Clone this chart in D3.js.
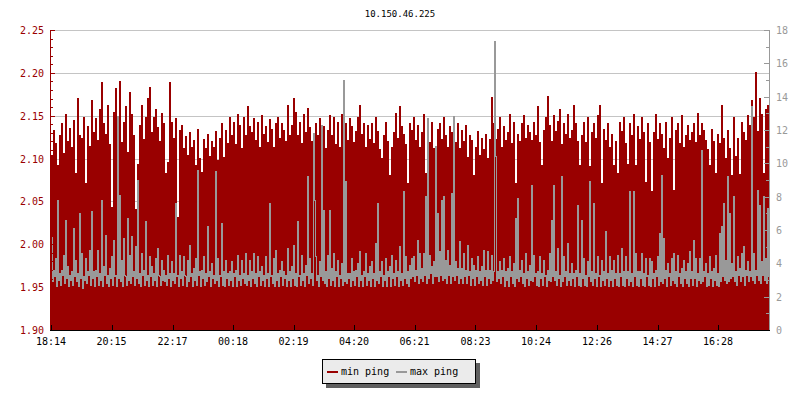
<!DOCTYPE html>
<html><head><meta charset="utf-8">
<script src="https://cdn.jsdelivr.net/npm/d3@7"></script>
<style>
body{margin:0;background:#fff}
text{font-family:"DejaVu Sans Mono",monospace;font-size:10px}
</style>
</head><body>
<svg id="chart" width="800" height="400"></svg>
<script>
const chartTitle = "10.150.46.225";
const seriesNames = ["min ping", "max ping"];
const timeLabels = ["18:14","20:15","22:17","00:18","02:19","04:20","06:21","08:23","10:24","12:26","14:27","16:28"];
const minStepMinutes = 4;
const maxStepMinutes = 2;
const leftTicks = [1.90, 1.95, 2.00, 2.05, 2.10, 2.15, 2.20, 2.25];
const rightTicks = [0, 2, 4, 6, 8, 10, 12, 14, 16, 18];

const minPing = [
2.104,2.133,2.118,2.092,2.127,2.141,2.106,2.152,2.121,2.136,2.113,2.145,2.083,2.171,2.128,2.124,2.149,2.072,2.138,2.115,
2.168,2.131,2.147,2.122,2.158,2.189,2.142,2.129,2.163,2.117,2.043,2.154,2.182,2.134,2.191,2.119,2.143,2.161,2.108,2.178,
2.152,2.127,2.041,2.094,2.139,2.162,2.123,2.148,2.171,2.184,2.131,2.149,2.158,2.137,2.121,2.153,2.142,2.083,2.096,2.189,
2.143,2.124,2.147,2.032,2.133,2.139,2.112,2.126,2.104,2.131,2.114,2.122,2.093,2.134,2.101,2.084,2.123,2.112,2.129,2.103,
2.121,2.113,2.132,2.098,2.124,2.141,2.102,2.133,2.118,2.149,2.128,2.143,2.117,2.152,2.139,2.112,2.148,2.127,2.161,2.138,
2.131,2.147,2.122,2.143,2.114,2.151,2.129,2.138,2.119,2.146,2.134,2.113,2.142,2.149,2.124,2.141,2.133,2.121,2.162,2.128,
2.139,2.171,2.154,2.127,2.143,2.118,2.152,2.131,2.159,2.137,2.121,2.102,2.141,2.128,2.147,2.119,2.138,2.112,2.133,2.151,
2.128,2.149,2.117,2.143,2.113,2.152,2.134,2.141,2.122,2.147,2.138,2.119,2.132,2.148,2.163,2.129,2.142,2.114,2.139,2.123,
2.141,2.118,2.149,2.132,2.111,2.101,2.128,2.143,2.121,2.081,2.114,2.131,2.153,2.124,2.161,2.138,2.129,2.117,2.072,2.142,
2.133,2.148,2.122,2.139,2.113,2.131,2.152,2.083,2.127,2.119,2.143,2.112,2.091,2.134,2.141,2.123,2.149,2.128,2.114,2.138,
2.131,2.146,2.119,2.142,2.112,2.133,2.121,2.139,2.102,2.128,2.122,2.081,2.113,2.132,2.104,2.124,2.111,2.129,2.101,2.123,
2.172,2.141,2.123,2.134,2.149,2.114,2.138,2.122,2.131,2.152,2.118,2.143,2.071,2.129,2.121,2.142,2.151,2.124,2.139,2.131,
2.122,2.143,2.128,2.161,2.119,2.092,2.133,2.148,2.173,2.139,2.121,2.151,2.132,2.144,2.158,2.117,2.141,2.129,2.152,2.124,
2.133,2.162,2.141,2.121,2.093,2.128,2.143,2.119,2.149,2.091,2.131,2.142,2.124,2.151,2.163,2.071,2.134,2.122,2.141,2.113,
2.129,2.092,2.121,2.083,2.143,2.132,2.149,2.118,2.094,2.141,2.127,2.152,2.092,2.138,2.123,2.149,2.131,2.073,2.142,2.119,
2.062,2.131,2.152,2.123,2.141,2.129,2.112,2.143,2.101,2.124,2.149,2.063,2.133,2.142,2.118,2.151,2.113,2.128,2.139,2.122,
2.131,2.142,2.119,2.153,2.128,2.141,2.133,2.122,2.111,2.092,2.134,2.121,2.083,2.129,2.118,2.162,2.124,2.101,2.133,2.112,
2.081,2.148,2.103,2.124,2.082,2.143,2.131,2.122,2.151,2.139,2.168,2.149,2.201,2.132,2.171,2.152,2.083,2.158,2.163
];

const maxPing = [
5.6,2.9,3.6,3.2,4.3,2.6,7.8,3.0,3.4,2.7,3.6,3.3,4.5,2.8,6.6,3.1,3.8,2.6,3.3,3.0,3.5,2.7,6.1,3.2,4.2,2.9,3.4,2.6,7.0,3.1,4.6,2.5,3.2,3.0,4.3,2.8,3.5,3.3,4.8,2.7,
7.1,3.1,3.5,2.6,3.6,3.2,4.8,2.7,3.4,3.0,7.8,2.6,3.8,3.3,5.7,2.8,3.3,2.6,3.7,3.1,4.4,2.7,5.4,3.2,3.3,2.6,12.8,3.1,8.1,2.9,4.2,2.6,5.5,3.3,3.2,2.7,6.7,3.0,4.5,2.8,
5.6,3.2,3.5,2.7,5.0,3.1,9.0,2.8,3.4,2.6,4.6,3.3,3.6,2.7,6.5,3.0,3.3,2.6,4.4,3.2,3.8,2.7,3.4,3.0,4.3,2.6,4.9,3.3,3.2,2.7,4.2,3.0,3.6,2.9,3.3,2.7,4.5,3.1,3.4,2.6,
4.1,3.0,3.4,2.8,7.6,3.2,3.3,2.6,4.5,3.1,3.5,2.7,4.4,3.3,3.2,2.6,4.2,2.9,5.1,3.2,3.4,2.6,3.7,3.0,4.3,2.7,9.6,3.3,3.5,2.6,3.6,3.1,4.4,2.7,3.4,2.9,6.2,3.2,3.5,2.6,
4.0,3.1,3.3,2.8,9.5,3.0,4.3,2.6,3.3,3.2,6.4,2.7,3.5,2.6,4.2,3.1,3.4,2.7,3.5,3.0,4.1,2.6,3.4,3.2,3.6,2.6,4.5,3.0,3.3,2.7,4.2,3.1,3.4,2.8,4.6,2.7,3.3,3.0,4.2,2.6,
3.5,3.1,4.6,2.8,3.4,2.6,4.4,3.2,3.5,2.7,3.8,3.0,3.3,2.6,4.4,3.1,3.4,2.6,7.6,3.2,3.3,2.8,4.3,2.6,4.8,3.0,3.4,2.6,3.6,3.2,4.1,2.7,3.5,3.1,3.3,2.6,4.9,3.0,3.5,2.6,
3.8,3.1,5.1,2.7,3.4,2.6,6.5,3.2,3.3,2.7,4.5,3.0,3.4,2.6,3.9,3.3,9.2,2.8,4.3,3.1,3.4,2.7,11.8,7.8,4.4,3.0,3.3,2.6,4.1,3.2,12.3,3.0,7.2,2.8,3.5,2.6,4.5,3.1,7.2,2.7,
3.7,3.0,4.6,2.6,3.5,3.2,4.2,2.6,3.3,3.1,4.0,2.7,15.0,2.9,8.9,2.8,3.4,3.1,3.4,2.6,4.3,3.0,3.5,2.7,3.6,3.2,4.0,2.6,4.7,3.0,3.3,2.6,3.5,3.2,4.6,2.7,3.4,3.0,3.8,2.6,
4.1,3.1,3.4,2.6,5.2,3.0,7.6,2.8,3.5,3.2,4.1,2.6,3.3,3.0,4.3,2.6,3.5,3.2,3.8,2.6,4.5,3.1,3.4,2.7,4.2,3.2,3.5,2.6,5.0,3.0,3.4,2.7,8.3,3.1,4.4,2.8,3.5,2.6,3.9,3.1,
4.3,3.2,4.4,2.9,3.6,3.3,5.4,2.8,4.6,3.1,3.7,2.9,4.6,3.3,8.0,2.8,12.7,3.1,4.5,3.4,3.8,2.8,4.1,3.2,11.0,3.2,7.0,2.9,4.7,3.3,7.8,3.0,8.0,3.1,4.2,2.8,4.8,3.3,3.9,2.8,
8.2,3.2,12.8,3.0,4.1,3.3,3.7,2.8,5.3,3.1,3.7,2.8,4.6,3.2,3.6,2.8,5.1,3.3,3.5,2.7,4.3,3.1,3.9,2.7,3.6,3.2,4.4,2.8,3.5,3.0,3.8,2.7,4.8,3.2,3.6,2.7,4.7,3.1,3.6,2.8,
4.5,3.0,3.5,17.3,10.4,2.9,3.5,3.1,4.1,2.8,3.6,3.2,4.3,2.6,3.5,3.0,3.7,2.6,4.4,3.2,3.5,2.8,4.0,2.6,6.7,3.1,7.9,2.9,3.6,3.2,4.2,2.8,3.4,2.6,4.6,3.1,3.5,2.7,3.9,3.0,
8.7,2.9,4.5,3.2,3.4,2.7,3.5,2.6,4.4,3.1,3.4,2.7,4.2,3.2,3.3,2.6,3.6,3.0,4.6,2.9,6.6,3.2,8.7,3.0,3.5,2.7,4.9,3.1,3.3,2.6,9.2,2.9,4.4,3.2,3.5,2.7,5.2,3.0,3.4,2.7,
4.0,3.1,3.4,2.6,3.6,3.2,7.5,2.7,3.4,2.6,6.6,3.1,4.3,2.7,3.3,2.6,4.1,3.2,8.9,2.9,3.5,2.7,7.6,3.1,3.4,2.6,4.4,3.2,3.3,2.6,4.2,3.0,3.5,2.7,5.9,3.1,3.4,2.6,4.4,3.0,
3.6,2.6,4.2,3.1,3.4,2.7,4.5,2.6,3.4,3.2,4.9,2.7,3.5,2.6,4.4,3.1,3.5,2.7,8.3,2.9,3.4,2.6,8.3,3.2,4.6,2.7,3.5,2.6,3.5,3.1,4.6,2.7,3.4,2.6,4.3,3.2,3.3,2.7,4.3,2.6,
4.1,3.1,3.4,2.6,3.6,3.2,4.4,2.7,5.8,2.9,9.3,2.8,5.5,3.1,3.6,2.6,4.0,3.2,3.4,2.7,4.3,3.0,4.6,2.8,3.5,2.6,4.5,3.2,3.4,2.8,3.7,2.6,4.2,3.1,3.5,2.8,4.0,2.6,4.7,3.1,
3.5,2.7,5.4,3.1,4.3,2.6,3.4,3.0,4.3,2.8,10.8,2.9,3.5,3.2,4.0,2.6,3.4,2.7,4.4,3.1,3.5,2.6,3.7,3.0,4.5,2.7,3.4,2.6,5.8,2.9,6.2,3.2,7.6,3.0,4.2,2.8,9.2,2.9,7.0,3.1,
4.0,3.2,8.0,2.9,3.5,2.7,4.4,3.3,3.7,2.9,4.6,3.2,5.0,2.7,3.6,3.3,4.1,2.9,3.5,3.2,13.4,3.0,4.6,2.8,3.6,3.3,8.4,3.0,7.5,2.8,4.1,3.3,8.0,3.0,4.3,2.8,7.3,3.2
];

const colors = { min: "#990000", max: "#999999", grid: "#c4c4c4", leftAxis: "#990000", rightAxis: "#999999" };

const svg = d3.select("#chart");
const L = 51, R = 769, T = 30, B = 330;

const t0 = new Date(2024, 0, 1, 18, 14);
const tEnd = d3.timeMinute.offset(t0, minPing.length * minStepMinutes);
const x = d3.scaleTime().domain([t0, tEnd]).range([L, R]);
const yL = d3.scaleLinear().domain([leftTicks[0], leftTicks[leftTicks.length - 1]]).range([B, T]);
const yR = d3.scaleLinear().domain([rightTicks[0], rightTicks[rightTicks.length - 1]]).range([B, T]);

let prev = -1, day = 1;
const tickDates = timeLabels.map(s => {
  const [h, m] = s.split(":").map(Number);
  const mins = h * 60 + m;
  if (prev >= 0 && mins < prev) day += 1;
  prev = mins;
  return new Date(2024, 0, day, h, m);
});

const px = v => Math.round(v) + 0.5;

svg.append("rect").attr("width", 800).attr("height", 400).attr("fill", "#fff");

svg.append("text").attr("x", 400).attr("y", 17).attr("text-anchor", "middle")
  .style("font-size", "9px").attr("fill", "#000").text(chartTitle);

const gGrid = svg.append("g").attr("shape-rendering", "crispEdges");
leftTicks.forEach(v => {
  gGrid.append("line").attr("x1", L).attr("x2", R).attr("y1", px(yL(v))).attr("y2", px(yL(v)))
    .attr("stroke", colors.grid);
});

svg.append("clipPath").attr("id", "clip").append("rect")
  .attr("x", L).attr("y", T).attr("width", R - L).attr("height", B - T);

const minPts = minPing.map((v, i) => ({ t: d3.timeMinute.offset(t0, i * minStepMinutes), v }));
minPts.push({ t: tEnd, v: minPing[minPing.length - 1] });
const maxPts = maxPing.map((v, i) => ({ t: d3.timeMinute.offset(t0, i * maxStepMinutes), v }));
maxPts.push({ t: tEnd, v: maxPing[maxPing.length - 1] });

const area = d3.area().curve(d3.curveStepAfter)
  .x(d => x(d.t)).y0(yL(leftTicks[0])).y1(d => yL(d.v));
svg.append("path").datum(minPts).attr("d", area).attr("fill", colors.min)
  .attr("clip-path", "url(#clip)").attr("shape-rendering", "crispEdges");

const line = d3.line().curve(d3.curveStepAfter).x(d => x(d.t) + 0.5).y(d => yR(d.v));
svg.append("path").datum(maxPts).attr("d", line).attr("fill", "none")
  .attr("stroke", colors.max).attr("stroke-width", 1)
  .attr("shape-rendering", "crispEdges")
  .attr("clip-path", "url(#clip)");

const gL = svg.append("g").attr("shape-rendering", "crispEdges");
gL.append("line").attr("x1", 50.5).attr("x2", 50.5).attr("y1", T).attr("y2", B)
  .attr("stroke", colors.leftAxis);
yL.ticks(35).forEach(v => {
  const major = leftTicks.some(t => Math.abs(t - v) < 1e-6);
  gL.append("line").attr("x1", 50).attr("x2", major ? 55 : 53)
    .attr("y1", px(yL(v))).attr("y2", px(yL(v))).attr("stroke", colors.leftAxis);
});
leftTicks.forEach(v => {
  svg.append("text").attr("x", 44).attr("y", yL(v) + 4).attr("text-anchor", "end")
    .attr("fill", colors.leftAxis).text(d3.format(".2f")(v));
});

const gR = svg.append("g").attr("shape-rendering", "crispEdges");
gR.append("line").attr("x1", 769.5).attr("x2", 769.5).attr("y1", T).attr("y2", B)
  .attr("stroke", colors.rightAxis);
yR.ticks(18).forEach(v => {
  const major = rightTicks.includes(v);
  gR.append("line").attr("x1", major ? 764 : 766).attr("x2", 770)
    .attr("y1", px(yR(v))).attr("y2", px(yR(v))).attr("stroke", colors.rightAxis);
});
rightTicks.forEach(v => {
  svg.append("text").attr("x", 776).attr("y", yR(v) + 4).attr("text-anchor", "start")
    .attr("fill", colors.rightAxis).text(v);
});

const gB = svg.append("g").attr("shape-rendering", "crispEdges");
gB.append("line").attr("x1", 50).attr("x2", 770).attr("y1", 330.5).attr("y2", 330.5)
  .attr("stroke", "#000");
tickDates.forEach((d, i) => {
  const xx = px(x(d));
  gB.append("line").attr("x1", xx).attr("x2", xx).attr("y1", 325).attr("y2", 331)
    .attr("stroke", "#000");
  svg.append("text").attr("x", x(d)).attr("y", 345).attr("text-anchor", "middle")
    .attr("fill", "#000").text(timeLabels[i]);
});

const lg = svg.append("g").attr("shape-rendering", "crispEdges");
lg.append("rect").attr("x", 326).attr("y", 363).attr("width", 154).attr("height", 25).attr("fill", "#5f5f5f");
lg.append("rect").attr("x", 322.5).attr("y", 359.5).attr("width", 153).attr("height", 24)
  .attr("fill", "#ebebeb").attr("stroke", "#000");
const items = [
  { name: seriesNames[0], color: colors.min, x: 327 },
  { name: seriesNames[1], color: colors.max, x: 396 }
];
items.forEach(it => {
  lg.append("rect").attr("x", it.x).attr("y", 371).attr("width", 11).attr("height", 2).attr("fill", it.color);
  lg.append("text").attr("x", it.x + 14).attr("y", 375).attr("fill", "#000").text(it.name);
});
</script>
</body></html>
